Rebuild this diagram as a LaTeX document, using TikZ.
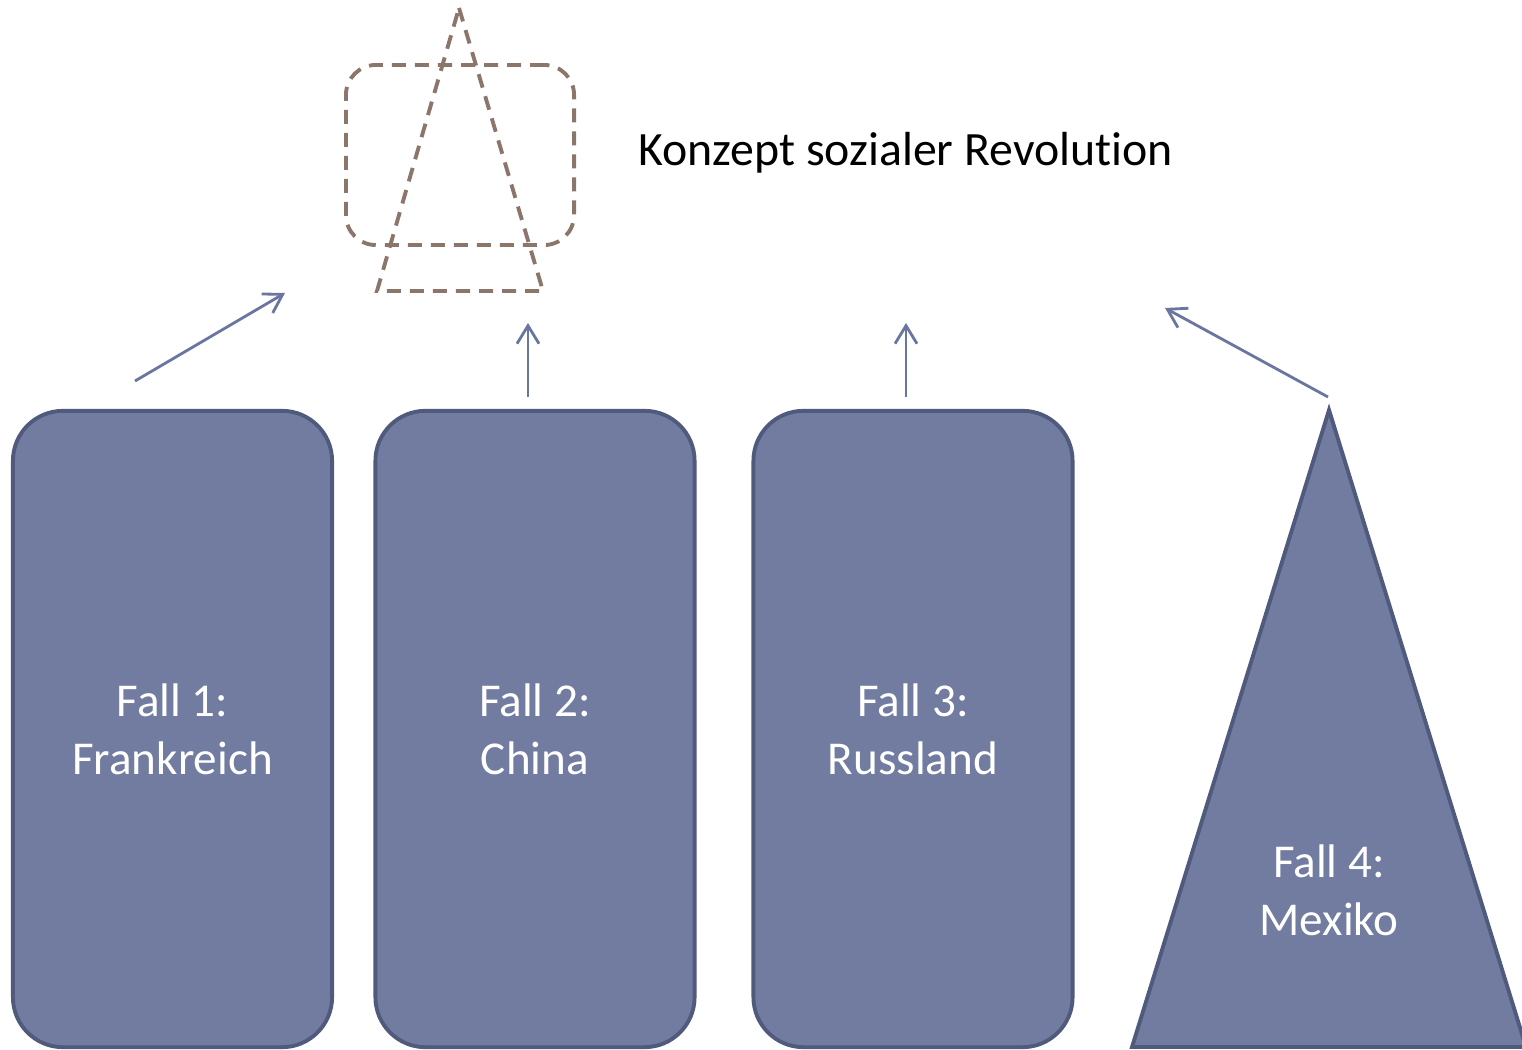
\documentclass[tikz,border=0pt]{standalone}
\usepackage{fontspec}
\setmainfont{Carlito}[Ligatures=NoCommon]
\usepackage{tikz}
\usetikzlibrary{arrows.meta,shapes.geometric,positioning,calc}

\definecolor{fallfill}{RGB}{114,123,160}
\definecolor{fallline}{RGB}{80,90,125}
\definecolor{pfeil}{RGB}{107,118,160}
\definecolor{konzept}{RGB}{140,118,108}

\begin{document}
\begin{tikzpicture}[x=0.01cm,y=-0.01cm,
		fallbox/.style={draw=fallline, line width=1.1pt, fill=fallfill, rounded corners=0.5cm,
			minimum width=3.19cm, minimum height=6.36cm, align=center, text=white,
			font=\fontsize{13.4}{16.5}\selectfont},
		pfeil/.style={draw=pfeil, line width=0.8pt, -{Straight Barb[length=1.8mm,width=2.2mm]}},
		konzeptline/.style={draw=konzept, line width=1.1pt, dash pattern=on 0.14cm off 0.09cm}]
		\useasboundingbox (0,0) rectangle (1522,1049);

		% Fälle
		\node[fallbox] (fall1) at (172.5,729) {Fall 1:\\Frankreich};
		\node[fallbox] (fall2) at (535,729) {Fall 2:\\China};
		\node[fallbox] (fall3) at (913,729) {Fall 3:\\Russland};
		\filldraw[draw=fallline, line width=1.1pt, fill=fallfill]
			(1329,410) -- (1526,1047) -- (1132,1047) -- cycle;
		\node[align=center, text=white, font=\fontsize{13.4}{16.5}\selectfont] (fall4) at (1329,890) {Fall 4:\\Mexiko};

		% Konzept
		\node[konzeptline, rounded corners=0.3cm, minimum width=2.28cm, minimum height=1.80cm] (konzept) at (460,155) {};
		\draw[konzeptline] (459,8) -- (543,291) -- (377,291) -- cycle;
		\node[anchor=west, font=\fontsize{13.6}{16.5}\selectfont] (titel) at (626,153) {Konzept sozialer Revolution};

		% Pfeile
		\coordinate (p1s) at (135,381);
		\coordinate (p1e) at (285,293);
		\coordinate (p2s) at (528,397);
		\coordinate (p2e) at (528,323);
		\coordinate (p3s) at (906,397);
		\coordinate (p3e) at (906,323);
		\coordinate (p4s) at (1328,397);
		\coordinate (p4e) at (1165,308);
		\draw[pfeil] (p1s) -- (p1e);
		\draw[pfeil] (p2s) -- (p2e);
		\draw[pfeil] (p3s) -- (p3e);
		\draw[pfeil] (p4s) -- (p4e);
	\end{tikzpicture}
\end{document}
